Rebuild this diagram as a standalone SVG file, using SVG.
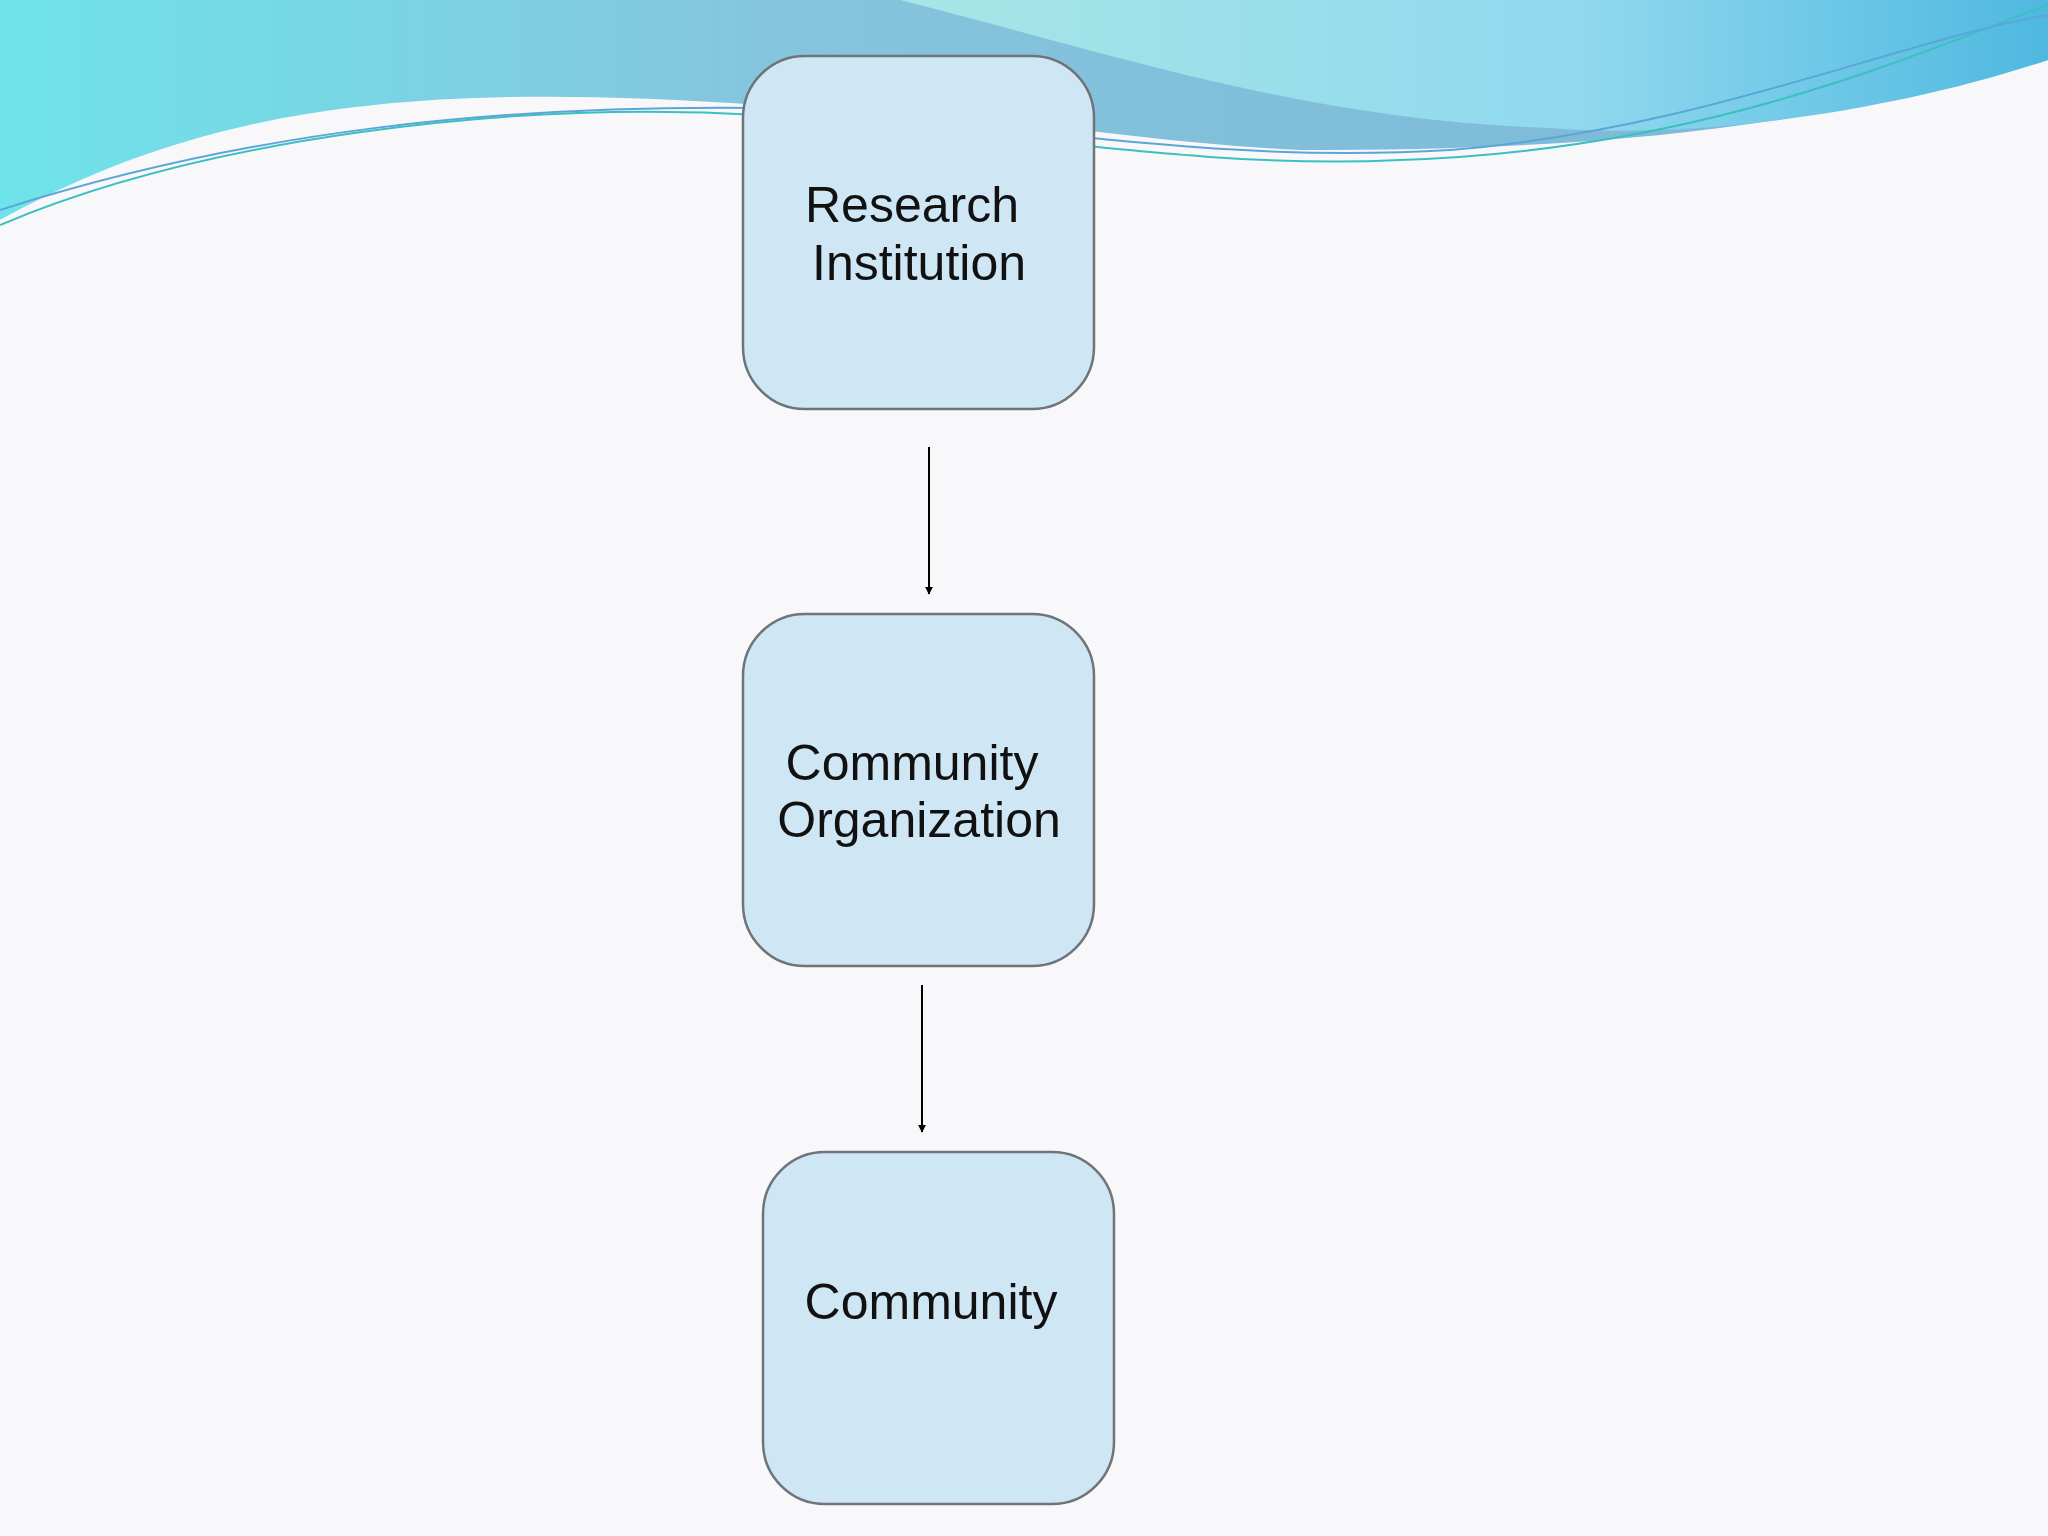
<svg xmlns="http://www.w3.org/2000/svg" width="2048" height="1536" viewBox="0 0 2048 1536">
<defs>
<linearGradient id="g1" x1="0" y1="0" x2="1" y2="0"><stop offset="0" stop-color="#6fe3ea"/><stop offset="0.4" stop-color="#86c3dc"/><stop offset="1" stop-color="#7ab7d8"/></linearGradient>
<linearGradient id="g2" x1="0" y1="0" x2="1" y2="0"><stop offset="0" stop-color="#a8e6e6"/><stop offset="0.6" stop-color="#8fd8ee"/><stop offset="1" stop-color="#4fb8e0"/></linearGradient>
<marker id="ah" viewBox="0 0 10 10" refX="9" refY="5" markerWidth="8" markerHeight="8" orient="auto" markerUnits="userSpaceOnUse"><path d="M0,0L10,5L0,10z" fill="#000"/></marker>
<style>
.box{fill:#cfe6f4;stroke:#6e7478;stroke-width:2.5}
.lbl{font-family:"Liberation Sans",Arial,sans-serif;font-size:50px;fill:#111;text-anchor:middle}
.con{stroke:#000;stroke-width:2;fill:none;marker-end:url(#ah)}
</style>
</defs>
<rect width="2048" height="1536" fill="#f8f8fa"/>
<path d="M0,0H2048V60C1800,130 1600,150 1300,150C1100,140 1000,110 760,105C400,80 200,110 0,220Z" fill="url(#g1)"/>
<path d="M900,0H2048V60C1900,110 1700,140 1550,128C1300,120 1100,50 900,0Z" fill="url(#g2)"/>
<path d="M0,225C200,140 500,100 760,115C1000,130 1200,170 1400,160C1700,150 1900,60 2048,5" stroke="#3cbfc0" stroke-width="2" fill="none"/>
<path d="M0,210C250,130 500,105 760,108C1000,120 1200,165 1450,150C1700,130 1900,40 2048,15" stroke="#5aa6d8" stroke-width="2" fill="none"/>
<g id="connectors">
<line class="con" x1="929" y1="447" x2="929" y2="594"/>
<line class="con" x1="922" y1="985" x2="922" y2="1132"/>
</g>
<g id="n1"><rect class="box" x="743" y="56" width="351" height="353" rx="62"/>
<text class="lbl" x="912" y="222">Research</text><text class="lbl" x="919" y="280">Institution</text></g>
<g id="n2"><rect class="box" x="743" y="614" width="351" height="352" rx="62"/>
<text class="lbl" x="912" y="780">Community</text><text class="lbl" x="919" y="837">Organization</text></g>
<g id="n3"><rect class="box" x="763" y="1152" width="351" height="352" rx="62"/>
<text class="lbl" x="931" y="1319">Community</text></g>
</svg>
